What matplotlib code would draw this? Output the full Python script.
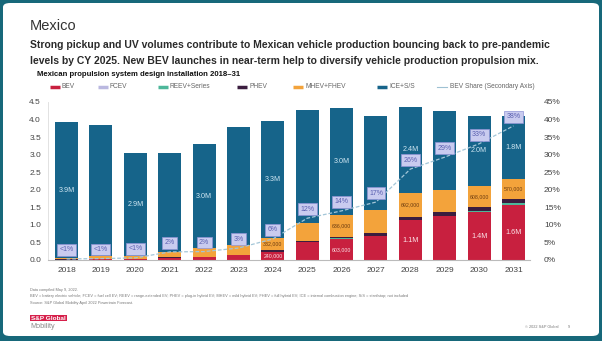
import matplotlib
matplotlib.use("Agg")
import matplotlib.pyplot as plt
from matplotlib.patches import FancyBboxPatch
from matplotlib.lines import Line2D
import numpy as np

plt.rcParams['font.family'] = ['Liberation Sans', 'DejaVu Sans']

# ---------------- data ----------------
years = ["2018", "2019", "2020", "2021", "2022", "2023", "2024",
         "2025", "2026", "2027", "2028", "2029", "2030", "2031"]
bev  = [0.010, 0.015, 0.020, 0.070, 0.080, 0.130, 0.240, 0.510, 0.603, 0.680, 1.130, 1.240, 1.360, 1.570]
fcev = [0.000, 0.000, 0.000, 0.000, 0.000, 0.000, 0.000, 0.000, 0.000, 0.000, 0.000, 0.000, 0.005, 0.010]
reev = [0.000, 0.000, 0.000, 0.000, 0.000, 0.000, 0.000, 0.000, 0.010, 0.010, 0.020, 0.020, 0.020, 0.030]
phev = [0.005, 0.005, 0.005, 0.010, 0.010, 0.010, 0.050, 0.020, 0.040, 0.070, 0.080, 0.110, 0.120, 0.120]
mhev = [0.040, 0.090, 0.100, 0.160, 0.240, 0.290, 0.332, 0.520, 0.636, 0.660, 0.692, 0.630, 0.608, 0.570]
ice  = [3.870, 3.740, 2.920, 2.800, 2.980, 3.370, 3.340, 3.220, 3.030, 2.690, 2.430, 2.230, 1.990, 1.800]
bev_share = [0.3, 0.4, 0.6, 2.3, 2.4, 3.4, 6.0, 11.9, 14.0, 16.5, 25.9, 29.3, 33.1, 38.2]
share_labels = ["<1%", "<1%", "<1%", "2%", "2%", "3%", "6%", "12%", "14%", "17%", "26%", "29%", "33%", "38%"]
ice_label_idx = [0, 2, 4, 6, 8, 10, 12, 13]
seg_label_idx = [6, 8, 10, 12, 13]

series_names = ["BEV", "FCEV", "REEV+Series", "PHEV", "MHEV+FHEV", "ICE+S/S"]
colors = ["#c8203f", "#bab8e0", "#4db79a", "#3b1d3f", "#f3a33b", "#16648a"]

left_ticks = [0.0, 0.5, 1.0, 1.5, 2.0, 2.5, 3.0, 3.5, 4.0, 4.5]
right_ticks = [0, 5, 10, 15, 20, 25, 30, 35, 40, 45]

# ---------------- figure ----------------
W, H = 602, 341
fig = plt.figure(figsize=(W / 100, H / 100), dpi=100)
fig.patch.set_facecolor("#17687a")

def px(x, y):
    return x / W, 1 - y / H

card = FancyBboxPatch((3 / W, 5 / H), (W - 6) / W, (H - 8) / H,
                      boxstyle="round,pad=0,rounding_size=0.012",
                      transform=fig.transFigure, facecolor="white",
                      edgecolor="none", zorder=0)
fig.add_artist(card)

fig.text(*px(30, 26), "Mexico", fontsize=10.5, color="#333333", va="center", ha="left")
fig.text(*px(30, 45), "Strong pickup and UV volumes contribute to Mexican vehicle production bouncing back to pre-pandemic",
         fontsize=7.5, color="#2a2a2a", va="center", ha="left", fontweight="bold")
fig.text(*px(30, 61), "levels by CY 2025. New BEV launches in near-term help to diversify vehicle production propulsion mix.",
         fontsize=7.5, color="#2a2a2a", va="center", ha="left", fontweight="bold")
fig.text(*px(37, 74), "Mexican propulsion system design installation 2018\u201331",
         fontsize=5.6, color="#111111", va="center", ha="left", fontweight="bold")

# legend (manual)
leg_x = [50, 98, 158, 237, 293, 377]
for name, c, lx in zip(series_names, colors, leg_x):
    fig.add_artist(Line2D([lx / W, (lx + 10) / W], [1 - 87 / H] * 2, color=c, lw=2.5,
                          transform=fig.transFigure, solid_capstyle="butt"))
    fig.text(*px(lx + 12, 87), name, fontsize=4.8, color="#666666", va="center", ha="left")
fig.add_artist(Line2D([437 / W, 447 / W], [1 - 87 / H] * 2, color="#9ec1d3", lw=0.8,
                      transform=fig.transFigure))
fig.text(*px(450, 87), "BEV Share (Secondary Axis)", fontsize=4.8, color="#666666", va="center", ha="left")

# ---------------- axes ----------------
ax = fig.add_axes([48 / W, (H - 260) / H, (530 - 48) / W, (260 - 102) / H])
ax.set_facecolor("none")
x = np.arange(len(years))
bw = 0.67
bottom = np.zeros(len(years))
for vals, c in zip([bev, fcev, reev, phev, mhev, ice], colors):
    ax.bar(x, vals, bw, bottom=bottom, color=c, edgecolor="none", zorder=2)
    bottom = bottom + np.array(vals)

def fmt(v):
    return f"{v:.1f}M" if v >= 1 else f"{v * 1e6:,.0f}"

base_ice = np.array(bev) + np.array(fcev) + np.array(reev) + np.array(phev) + np.array(mhev)
base_mhev = base_ice - np.array(mhev)
for i in ice_label_idx:
    ax.text(x[i], base_ice[i] + ice[i] / 2, fmt(ice[i]), ha="center", va="center",
            fontsize=5.2, color="#cfe6f2", zorder=4)
for i in seg_label_idx:
    ax.text(x[i], base_mhev[i] + mhev[i] / 2, fmt(mhev[i]), ha="center", va="center",
            fontsize=3.8, color="#6b3b10", zorder=4)
    ax.text(x[i], bev[i] / 2, fmt(bev[i]), ha="center", va="center",
            fontsize=5.2 if bev[i] >= 1 else 3.8, color="#fbe3e8", zorder=4)

ax.set_xlim(-0.54, len(years) - 1 + 0.48)
ax.set_ylim(0, 4.5)
ax.set_yticks(left_ticks)
ax.set_yticklabels([f"{t:.1f}" for t in left_ticks])
ax.set_xticks(x)
ax.set_xticklabels(years)
ax.tick_params(axis="both", length=0, labelsize=6, labelcolor="#444444")
ax.tick_params(axis="x", pad=5)
ax.tick_params(axis="y", pad=5)
for s in ["top", "right"]:
    ax.spines[s].set_visible(False)
ax.spines["bottom"].set_color("#bbbbbb")
ax.spines["left"].set_color("#dddddd")
ax.spines["left"].set_linewidth(0.6)

ax2 = ax.twinx()
ax2.set_ylim(0, 45)
ax2.set_yticks(right_ticks)
ax2.set_yticklabels([f"{t}%" for t in right_ticks])
ax2.tick_params(axis="y", length=0, labelsize=6, labelcolor="#444444", pad=10)
for s in ax2.spines.values():
    s.set_visible(False)
ax2.plot(x, bev_share, color="#a3c6d8", lw=0.9, ls=(0, (3, 1.5)), zorder=3)
for i, lab in enumerate(share_labels):
    ax2.annotate(lab, (x[i], bev_share[i]), xytext=(0, 6.5), textcoords="offset points",
                 ha="center", va="center", fontsize=5, color="#5a60b0",
                 bbox=dict(boxstyle="square,pad=0.35", fc="#c9cbef", ec="#8f94d6", lw=0.5),
                 zorder=5)

# ---------------- footer ----------------
fig.text(*px(30, 290), "Data compiled May 9, 2022.", fontsize=2.8, color="#777777", va="center")
fig.text(*px(30, 296.5), "BEV = battery electric vehicle; FCEV = fuel cell EV; REEV = range-extended EV; PHEV = plug-in hybrid EV; MHEV = mild hybrid EV; FHEV = full hybrid EV; "
         "ICE = internal combustion engine; S/S = start/stop; not included",
         fontsize=2.8, color="#777777", va="center")
fig.text(*px(30, 303), "Source: S&P Global Mobility April 2022 Powertrain Forecast.", fontsize=2.8, color="#777777", va="center")
fig.text(*px(31, 318), "S&P Global", fontsize=4.6, color="white", fontweight="bold", va="center",
         bbox=dict(boxstyle="square,pad=0.15", fc="#d6204b", ec="none"))
fig.text(*px(30, 327), "Mobility", fontsize=5.2, color="#888888", va="center")
fig.text(*px(525, 327), "\u00a9 2022 S&P Global", fontsize=2.8, color="#777777", va="center")
fig.text(*px(568, 327), "9", fontsize=2.8, color="#777777", va="center")

fig.savefig("out.png", dpi=100, facecolor=fig.get_facecolor())
